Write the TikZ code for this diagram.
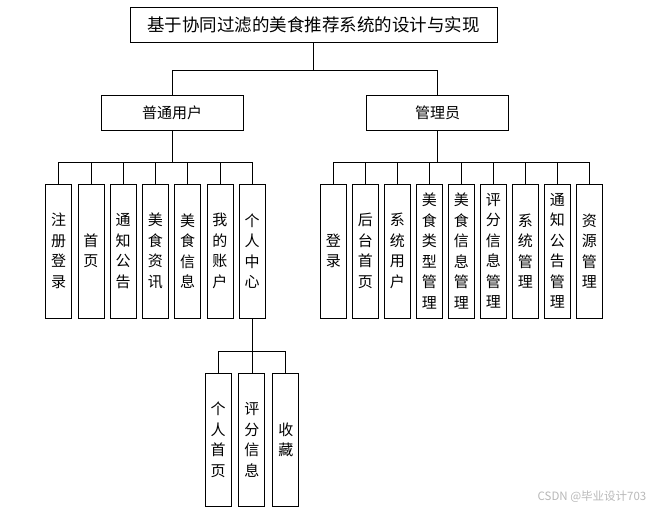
\documentclass[tikz,border=0pt]{standalone}
\usepackage{fontspec}
\setmainfont{Noto Sans CJK SC}
\usetikzlibrary{positioning}
\tikzstyle{titlebox} = [rectangle, minimum width=367pt, minimum height=35pt, text centered, draw=black, line width=0.9pt, font=\fontsize{17.5}{20}\selectfont]
\tikzstyle{rolebox} = [rectangle, minimum width=142pt, minimum height=35pt, text centered, draw=black, line width=0.9pt, font=\fontsize{15}{18}\selectfont]
\tikzstyle{funcbox} = [rectangle, minimum width=26pt, minimum height=134pt, text width=16pt, inner sep=0pt, outer sep=0pt, align=center, draw=black, line width=0.9pt, font=\fontsize{15}{20.5}\selectfont]
\tikzstyle{branch} = [line width=0.8pt, -]

\begin{document}
\begin{tikzpicture}[x=1pt, y=1pt]
        \useasboundingbox (0,0) rectangle (662,-512);
        \node (title) [titlebox] at (313.5,-24.5) {基于协同过滤的美食推荐系统的设计与实现};
        \node (user) [rolebox] at (172,-112.5) {普通用户};
        \node (admin) [rolebox] at (437.5,-112.5) {管理员};

        % user side
        \node (u1) [funcbox] at (58.7,-251) {注\\册\\登\\录};
        \node (u2) [funcbox, right=6.25pt of u1] {首\\页};
        \node (u3) [funcbox, right=6.25pt of u2] {通\\知\\公\\告};
        \node (u4) [funcbox, right=6.25pt of u3] {美\\食\\资\\讯};
        \node (u5) [funcbox, right=6.25pt of u4] {美\\食\\信\\息};
        \node (u6) [funcbox, right=6.25pt of u5] {我\\的\\账\\户};
        \node (u7) [funcbox, right=6.25pt of u6] {个\\人\\中\\心};
        \node (p1) [funcbox, minimum height=133pt] at (218,-439.7) {个\\人\\首\\页};
        \node (p2) [funcbox, minimum height=133pt, right=7.9pt of p1] {评\\分\\信\\息};
        \node (p3) [funcbox, minimum height=133pt, right=7.9pt of p2] {收\\藏};

        % admin side
        \node (a1) [funcbox] at (333.3,-251) {登\\录};
        \node (a2) [funcbox, right=6pt of a1] {后\\台\\首\\页};
        \node (a3) [funcbox, right=6pt of a2] {系\\统\\用\\户};
        \node (a4) [funcbox, right=6pt of a3] {美\\食\\类\\型\\管\\理};
        \node (a5) [funcbox, right=6pt of a4] {美\\食\\信\\息\\管\\理};
        \node (a6) [funcbox, right=6pt of a5] {评\\分\\信\\息\\管\\理};
        \node (a7) [funcbox, right=6pt of a6] {系\\统\\管\\理};
        \node (a8) [funcbox, right=6pt of a7] {通\\知\\公\\告\\管\\理};
        \node (a9) [funcbox, right=6pt of a8] {资\\源\\管\\理};

        \node (mark) [font=\fontsize{11.5}{13}\selectfont, text=black!28] at (592,-496.5) {CSDN @毕业设计703};

        \draw [branch] (title.south) -- ++(0,-28) -| (user.north);
        \draw [branch] (title.south) -- ++(0,-28) -| (admin.north);

        \draw [branch] (user.south) -- ++(0,-32) -| (u1.north);
        \draw [branch] (user.south) -- ++(0,-32) -| (u2.north);
        \draw [branch] (user.south) -- ++(0,-32) -| (u3.north);
        \draw [branch] (user.south) -- ++(0,-32) -| (u4.north);
        \draw [branch] (user.south) -- ++(0,-32) -| (u5.north);
        \draw [branch] (user.south) -- ++(0,-32) -| (u6.north);
        \draw [branch] (user.south) -- ++(0,-32) -| (u7.north);

        \draw [branch] (u7.south) -- ++(0,-33.7) -| (p1.north);
        \draw [branch] (u7.south) -- ++(0,-33.7) -| (p2.north);
        \draw [branch] (u7.south) -- ++(0,-33.7) -| (p3.north);

        \draw [branch] (admin.south) -- ++(0,-32) -| (a1.north);
        \draw [branch] (admin.south) -- ++(0,-32) -| (a2.north);
        \draw [branch] (admin.south) -- ++(0,-32) -| (a3.north);
        \draw [branch] (admin.south) -- ++(0,-32) -| (a4.north);
        \draw [branch] (admin.south) -- ++(0,-32) -| (a5.north);
        \draw [branch] (admin.south) -- ++(0,-32) -| (a6.north);
        \draw [branch] (admin.south) -- ++(0,-32) -| (a7.north);
        \draw [branch] (admin.south) -- ++(0,-32) -| (a8.north);
        \draw [branch] (admin.south) -- ++(0,-32) -| (a9.north);
\end{tikzpicture}
\end{document}
